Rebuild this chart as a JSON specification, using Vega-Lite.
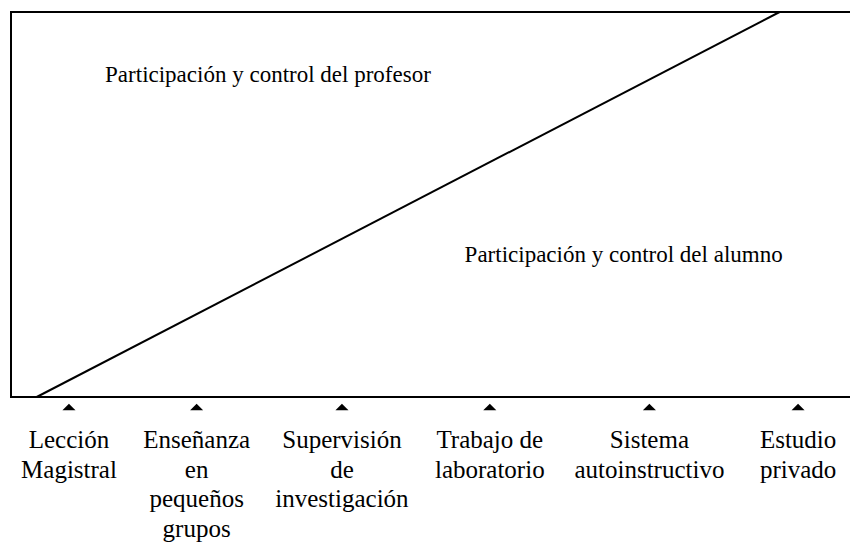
{
  "$schema": "https://vega.github.io/schema/vega-lite/v6.json",
  "width": 840,
  "height": 385,
  "autosize": {"type": "none"},
  "padding": {"left": 11, "top": 12, "right": 0, "bottom": 145},
  "background": "white",
  "config": {"view": {"stroke": "black", "strokeWidth": 2}, "text": {"font": "'Liberation Serif', 'Times New Roman', 'DejaVu Serif', serif"}},
  "datasets": {
    "linea": [
      {"pos": 3.06, "control": 0},
      {"pos": 91.5, "control": 100}
    ],
    "zonas": [
      {"pos": 11.2, "nivel": 81.8, "texto": "Participación y control del profesor"},
      {"pos": 54.0, "nivel": 35.1, "texto": "Participación y control del alumno"}
    ],
    "metodos": [
      {"pos": 6.9, "metodo": "Lección\nMagistral"},
      {"pos": 22.1, "metodo": "Enseñanza\nen\npequeños\ngrupos"},
      {"pos": 39.4, "metodo": "Supervisión\nde\ninvestigación"},
      {"pos": 57.0, "metodo": "Trabajo de\nlaboratorio"},
      {"pos": 76.0, "metodo": "Sistema\nautoinstructivo"},
      {"pos": 93.7, "metodo": "Estudio\nprivado"}
    ]
  },
  "layer": [
    {
      "data": {"name": "linea"},
      "mark": {"type": "line", "color": "black", "strokeWidth": 2},
      "encoding": {
        "x": {"field": "pos", "type": "quantitative", "scale": {"domain": [0, 100], "nice": false, "zero": false}, "axis": null},
        "y": {"field": "control", "type": "quantitative", "scale": {"domain": [0, 100], "nice": false, "zero": false}, "axis": null}
      }
    },
    {
      "data": {"name": "zonas"},
      "mark": {"type": "text", "align": "left", "baseline": "alphabetic", "font": "'Liberation Serif', 'Times New Roman', 'DejaVu Serif', serif", "fontSize": 23, "color": "black"},
      "encoding": {
        "x": {"field": "pos", "type": "quantitative", "scale": {"domain": [0, 100], "nice": false, "zero": false}, "axis": null},
        "y": {"field": "nivel", "type": "quantitative", "scale": {"domain": [0, 100], "nice": false, "zero": false}, "axis": null},
        "text": {"field": "texto"}
      }
    },
    {
      "data": {"name": "metodos"},
      "mark": {"type": "point", "shape": "M-1,0.5L0,-0.5L1,0.5Z", "filled": true, "color": "black", "opacity": 1, "size": 170},
      "encoding": {
        "x": {"field": "pos", "type": "quantitative", "scale": {"domain": [0, 100], "nice": false, "zero": false}, "axis": null},
        "y": {"datum": -2.6, "type": "quantitative", "scale": {"domain": [0, 100], "nice": false, "zero": false}, "axis": null}
      }
    },
    {
      "data": {"name": "metodos"},
      "mark": {"type": "text", "align": "center", "baseline": "alphabetic", "font": "'Liberation Serif', 'Times New Roman', 'DejaVu Serif', serif", "fontSize": 25, "lineBreak": "\n", "lineHeight": 29.5, "color": "black"},
      "encoding": {
        "x": {"field": "pos", "type": "quantitative", "scale": {"domain": [0, 100], "nice": false, "zero": false}, "axis": null},
        "y": {"datum": -13.25, "type": "quantitative", "scale": {"domain": [0, 100], "nice": false, "zero": false}, "axis": null},
        "text": {"field": "metodo"}
      }
    }
  ]
}
